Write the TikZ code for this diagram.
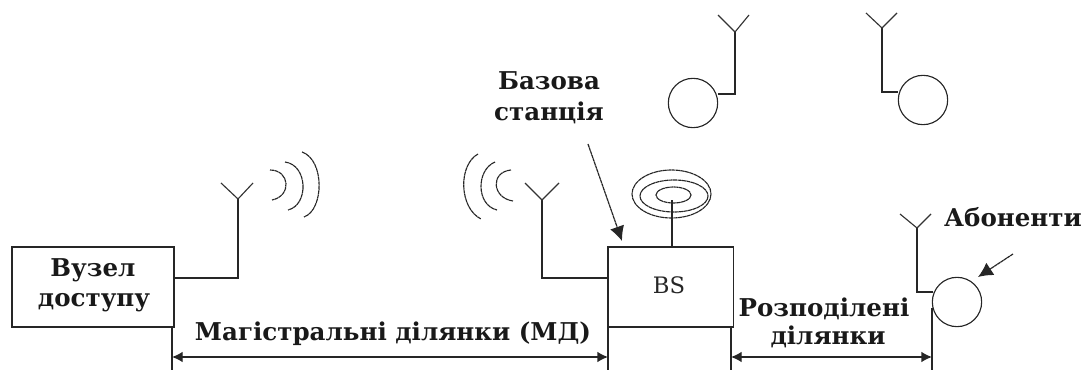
\documentclass[tikz,border=0pt]{standalone}
\usepackage{fontspec}
\setmainfont{DejaVu Serif}
\usetikzlibrary{arrows.meta}
\tikzset{
  x=0.75pt,y=-0.75pt,
  wire/.style={line width=1pt,black!85},
  thin wire/.style={line width=0.85pt,black!80},
  wave/.style={line width=0.85pt,black!85,dash pattern=on 3pt off 0.35pt},
  blockbox/.style={draw=black!85,line width=1pt,minimum width=121.5pt,inner sep=0pt,minimum height=60pt},
  subscriber/.style={circle,draw=black!85,line width=0.85pt,minimum size=37pt,inner sep=0pt},
  lab/.style={font=\bfseries\fontsize{18.4pt}{20pt}\selectfont,anchor=base,inner sep=0pt,black!90},
  dim/.style={wire,{Latex[length=8pt,width=8pt]}-{Latex[length=8pt,width=8pt]}},
  pointer/.style={line width=0.9pt,black!85,dash pattern=on 2.5pt off 0.35pt,-{Latex[length=11pt,width=11pt]}}
}
\begin{document}
\begin{tikzpicture}
\useasboundingbox (0,0) rectangle (1086,370);
% blocks
\node[blockbox,minimum width=121.5pt] (access) at (93,287) {};
\node[blockbox,minimum width=94pt] (bs) at (670.5,287) {};
\node[font=\fontsize{17pt}{18pt}\selectfont,black!85] (bstext) at (669,285) {BS};
\node[lab] (t1) at (93,277) {Вузел};
\node[lab] (t2) at (94,307) {доступу};
% access antenna
\coordinate (a1) at (174,278); \coordinate (a2) at (238,278); \coordinate (a3) at (238,199);
\coordinate (a4) at (221,183); \coordinate (a5) at (253,183);
\draw[wire] (a1) -- (a2) -- (a3);
\draw[thin wire] (a4) -- (a3) -- (a5);
% waves right
\draw[wave] (270,170) .. controls (290,170) and (292,196) .. (272,200);
\draw[wave] (285,162) .. controls (308,165) and (309,205) .. (288,210);
\draw[wave] (302,152) .. controls (325,160) and (324,210) .. (304,217);
% BS antenna
\coordinate (b1) at (608,278); \coordinate (b2) at (542,278); \coordinate (b3) at (542,200);
\coordinate (b4) at (525,183); \coordinate (b5) at (559,183);
\draw[wire] (b1) -- (b2) -- (b3);
\draw[thin wire] (b4) -- (b3) -- (b5);
% waves left
\draw[wave] (478,154) .. controls (458,165) and (459,208) .. (481,219);
\draw[wave] (495,162) .. controls (476,170) and (476,205) .. (497,210);
\draw[wave] (511,170) .. controls (490,172) and (492,198) .. (513,201);
% dish
\coordinate (d0) at (672,247); \coordinate (d1) at (672,200);
\draw[wire] (d0) -- (d1);
\draw[wave] (671.5,194) ellipse [x radius=39.5,y radius=24];
\draw[wave] (674,196) ellipse [x radius=34,y radius=16];
\draw[wave] (673.5,195) ellipse [x radius=17.5,y radius=8];
% top subscribers
\node[subscriber] (s1) at (693,103) {};
\coordinate (s1a) at (735,94); \coordinate (s1b) at (735,32);
\coordinate (s1c) at (718,15); \coordinate (s1d) at (749,15);
\draw[wire] (s1.east |- s1a) -- (s1a) -- (s1b);
\draw[thin wire] (s1c) -- (s1b) -- (s1d);
\node[subscriber] (s2) at (923,100) {};
\coordinate (s2a) at (882,92); \coordinate (s2b) at (882,28);
\coordinate (s2c) at (866,13); \coordinate (s2d) at (897,13);
\draw[wire] (s2.west |- s2a) -- (s2a) -- (s2b);
\draw[thin wire] (s2c) -- (s2b) -- (s2d);
% right subscriber
\node[subscriber] (s3) at (957,302) {};
\coordinate (s3a) at (917,292); \coordinate (s3b) at (917,228);
\coordinate (s3c) at (900,214); \coordinate (s3d) at (931,214);
\draw[wire] (933,292) -- (s3a) -- (s3b);
\draw[thin wire] (s3c) -- (s3b) -- (s3d);
% dimension lines
\coordinate (v1t) at (172,327); \coordinate (v1b) at (172,370);
\coordinate (v2t) at (608,327); \coordinate (v2b) at (608,370);
\coordinate (v3t) at (731,327); \coordinate (v3b) at (731,370);
\coordinate (v4t) at (932,308); \coordinate (v4b) at (932,370);
\draw[wire] (v1t) -- (v1b); \draw[wire] (v2t) -- (v2b);
\draw[wire] (v3t) -- (v3b); \draw[wire] (v4t) -- (v4b);
\coordinate (m1) at (172,357); \coordinate (m2) at (608,357);
\coordinate (m3) at (731,357); \coordinate (m4) at (932,357);
\draw[dim] (m1) -- (m2);
\draw[dim] (m3) -- (m4);
% pointers
\coordinate (p1) at (588,144); \coordinate (p2) at (622,241);
\draw[pointer] (p1) -- (p2);
\coordinate (p3) at (1013,254); \coordinate (p4) at (978,277);
\draw[pointer] (p3) -- (p4);
% labels
\node[lab] (t3) at (393,341) {Магістральні ділянки (МД)};
\node[lab] (t4) at (824,317) {Розподілені};
\node[lab] (t5) at (828,345) {ділянки};
\node[lab] (t6) at (1013,227) {Абоненти};
\node[lab] (t7) at (549,90) {Базова};
\node[lab] (t8) at (549,121) {станція};
\end{tikzpicture}
\end{document}
